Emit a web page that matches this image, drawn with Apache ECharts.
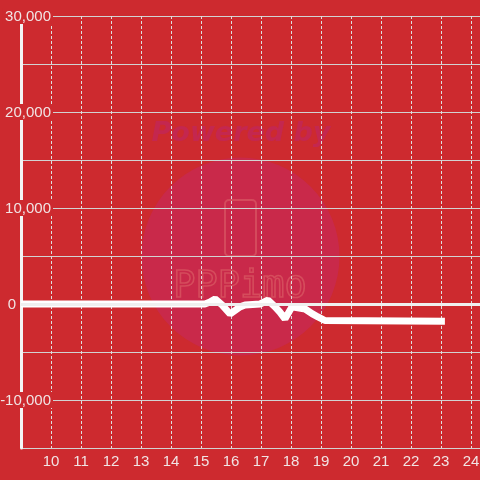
<!DOCTYPE html>
<html>
<head>
<meta charset="utf-8">
<script src="https://cdn.jsdelivr.net/npm/echarts@6/dist/echarts.min.js"></script>
<style>
  html, body { margin: 0; padding: 0; background: #cd2a2f; }
  #chart { width: 480px; height: 480px; }
</style>
</head>
<body>
<div id="chart"></div>
<script>
// hours on x, value on y
const hours = [9, 15, 15.13, 15.3, 15.47, 15.7, 15.97, 16.3, 16.47, 16.97, 17.23, 17.47, 17.63, 17.8, 18.03, 18.47, 18.7, 18.9, 19.13, 23.13];
const values = [0, 0, 0, 200, 520, -100, -1040, -300, -100, 0, 400, -300, -850, -1550, -300, -520, -1000, -1350, -1720, -1800];
const yLabelSteps = [30000, 20000, 10000, 0, -10000];

const bg = "#cd2a2f";
const textColor = "#f1e4e4";

const chart = echarts.init(document.getElementById("chart"), null, { renderer: "canvas" });

chart.setOption({
  animation: false,
  backgroundColor: bg,
  grid: { left: 21, right: 0, top: 16, bottom: 32, containLabel: false, outerBoundsMode: "none" },
  graphic: {
    z: -10,
    elements: [
      {
        type: "circle",
        shape: { cx: 240.5, cy: 256.5, r: 99 },
        style: { fill: "#c9294a" },
        silent: true,
      },
      {
        type: "text",
        x: 241,
        y: 134,
        style: {
          text: "Powered by",
          font: "italic bold 27px 'DejaVu Sans'",
          fill: "#c4274f",
          align: "center",
          verticalAlign: "middle",
        },
        silent: true,
      },
      {
        type: "rect",
        shape: { x: 225, y: 200, width: 31, height: 56, r: 4 },
        style: { fill: "none", stroke: "#d44a5c", lineWidth: 2 },
        silent: true,
      },
      {
        type: "text",
        x: 240,
        y: 287,
        style: {
          text: "PPPimo",
          font: "37px 'DejaVu Sans Mono'",
          fill: "none",
          stroke: "#d54c5c",
          lineWidth: 1.6,
          align: "center",
          verticalAlign: "middle",
        },
        silent: true,
      },
    ],
  },
  xAxis: {
    type: "value",
    min: 9,
    max: 24.3,
    interval: 1,
    axisLine: { show: false },
    axisTick: { show: false },
    axisLabel: {
      color: textColor,
      fontSize: 15,
      fontFamily: "Liberation Sans",
      margin: 6,
      showMinLabel: false,
      showMaxLabel: false,
    },
    splitLine: { show: true, lineStyle: { color: "#dedede", width: 1, type: [3, 2] } },
  },
  yAxis: {
    type: "value",
    min: -15000,
    max: 30000,
    interval: 5000,
    axisLine: { show: true, lineStyle: { color: "#f4f4f4", width: 3 } },
    axisTick: { show: false },
    axisLabel: {
      align: "right",
      margin: -32,
      formatter: (v) => {
        if (!yLabelSteps.includes(v)) return "";
        if (v === 0) return "{z|0}";
        return "{a|" + v.toLocaleString("en-US") + "}";
      },
      rich: {
        a: {
          color: textColor,
          fontSize: 15,
          fontFamily: "Liberation Sans",
          lineHeight: 15,
          backgroundColor: bg,
          padding: [1, 2, 0, 3],
        },
        z: {
          color: textColor,
          fontSize: 15,
          fontFamily: "Liberation Sans",
          lineHeight: 15,
          padding: [1, 37, 0, 0],
        },
      },
    },
    splitLine: { show: true, lineStyle: { color: "#d2d2d2", width: 1 } },
  },
  series: [
    {
      type: "line",
      data: hours.map((h, i) => [h, values[i]]),
      showSymbol: false,
      lineStyle: { color: "#ffffff", width: 7 },
      markLine: {
        silent: true,
        symbol: ["none", "none"],
        label: { show: false },
        lineStyle: { color: "#efefef", width: 3, type: "solid" },
        data: [{ yAxis: 0 }],
      },
    },
  ],
});
</script>
</body>
</html>
